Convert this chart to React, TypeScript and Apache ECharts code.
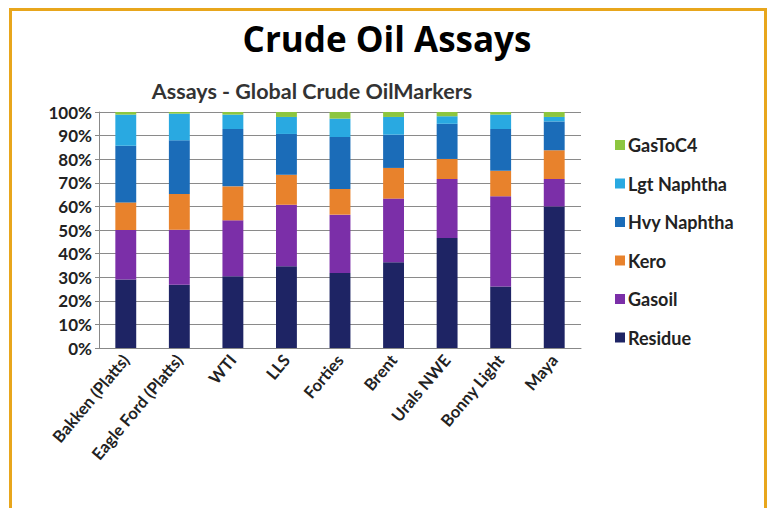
import React, { useEffect, useRef } from "react";
import * as echarts from "echarts";

const categories = [
  "Bakken (Platts)",
  "Eagle Ford (Platts)",
  "WTI",
  "LLS",
  "Forties",
  "Brent",
  "Urals NWE",
  "Bonny Light",
  "Maya",
];

const residue = [29.0, 26.8, 30.4, 34.6, 31.8, 36.3, 46.6, 26.1, 60.0];
const gasoil = [21.0, 23.3, 23.7, 26.1, 24.7, 27.0, 25.0, 38.2, 11.6];
const kero = [11.7, 15.2, 14.4, 12.7, 10.9, 13.0, 8.5, 10.8, 12.2];
const hvyNaphtha = [24.0, 22.7, 24.3, 17.3, 22.0, 14.1, 14.9, 17.7, 12.2];
const lgtNaphtha = [13.2, 11.3, 6.1, 7.2, 7.8, 7.5, 3.2, 6.1, 1.9];
const gasToC4 = [1.1, 0.7, 1.1, 2.1, 2.8, 2.1, 1.8, 1.1, 2.1];

const seriesNames = ["Residue", "Gasoil", "Kero", "Hvy Naphtha", "Lgt Naphtha", "GasToC4"];
const seriesData = [residue, gasoil, kero, hvyNaphtha, lgtNaphtha, gasToC4];
const seriesColors = ["#1E2464", "#7B2FA8", "#E8822C", "#1B6CB8", "#29A9E1", "#8DC63F"];

const mainTitle = "Crude Oil Assays";
const subTitle = "Assays - Global Crude OilMarkers";

export default function App() {
  const ref = useRef<HTMLDivElement>(null);
  useEffect(() => {
    if (!ref.current) return;
    const chart = echarts.init(ref.current, null, { renderer: "svg" });
    const font = "Lato, 'Open Sans', sans-serif";
    chart.setOption({
      animation: false,
      backgroundColor: "#ffffff",
      graphic: [
        {
          type: "rect",
          shape: { x: 10.5, y: 9.5, width: 755, height: 540 },
          style: { fill: "#ffffff", stroke: "#E8A61C", lineWidth: 3 },
          z: -10,
          silent: true,
        },
      ],
      title: [
        {
          text: mainTitle,
          left: 382,
          textAlign: "center",
          top: 16,
          textStyle: { fontFamily: "'Open Sans', sans-serif", fontWeight: "bold", fontSize: 35, color: "#000" },
        },
        {
          text: subTitle,
          left: 307,
          textAlign: "center",
          top: 75,
          textStyle: { fontFamily: font, fontWeight: "bold", fontSize: 21.5, color: "#333" },
        },
      ],
      legend: {
        orient: "vertical",
        left: 610,
        top: 131,
        itemWidth: 10,
        itemHeight: 10,
        itemGap: 20.5,
        icon: "rect",
        data: [...seriesNames].reverse(),
        textStyle: { fontFamily: font, fontWeight: "bold", fontSize: 18, color: "#222", padding: [0, 0, 0, -2] },
      },
      grid: { left: 99, right: 187, top: 112, bottom: 160 },
      xAxis: {
        type: "category",
        data: categories,
        axisLine: { lineStyle: { color: "#888" } },
        axisTick: { lineStyle: { color: "#888" }, length: 5 },
        axisLabel: {
          rotate: 50,
          interval: 0,
          margin: 9,
          fontFamily: font,
          fontWeight: "bold",
          fontSize: 16.5,
          color: "#222",
        },
      },
      yAxis: {
        type: "value",
        min: 0,
        max: 100,
        interval: 10,
        axisLine: { show: true, lineStyle: { color: "#888" } },
        axisTick: { show: true, lineStyle: { color: "#888" }, length: 4 },
        splitLine: { lineStyle: { color: "#8a8a8a", width: 1 } },
        axisLabel: {
          formatter: "{value}%",
          margin: 7,
          fontFamily: font,
          fontWeight: "bold",
          fontSize: 17,
          color: "#222",
        },
      },
      series: seriesNames.map((name, i) => ({
        name,
        type: "bar",
        stack: "total",
        barWidth: "39%",
        data: seriesData[i],
        itemStyle: { color: seriesColors[i] },
      })),
    });
    return () => chart.dispose();
  }, []);
  return (
    <div
      ref={ref}
      style={{ position: "fixed", left: 0, top: 0, width: 768, height: 508 }}
    />
  );
}
